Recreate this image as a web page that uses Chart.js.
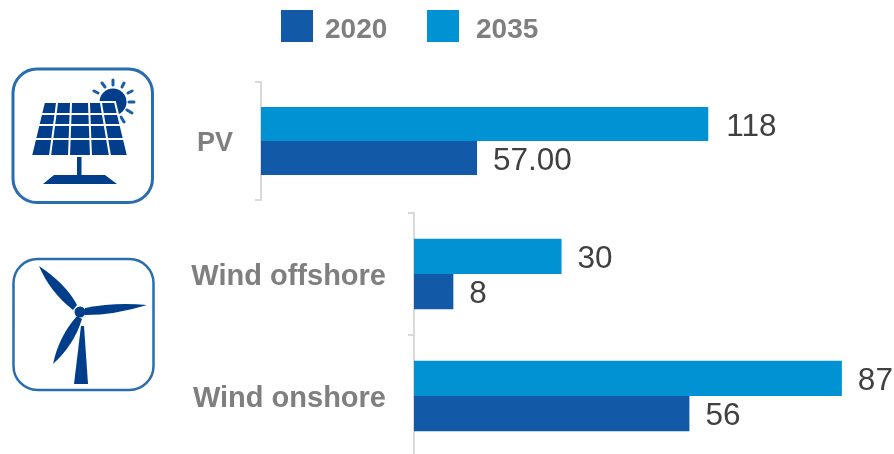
<!DOCTYPE html>
<html>
<head>
<meta charset="utf-8">
<title>PV and wind capacity, 2020 and 2035</title>
<script src="https://cdn.jsdelivr.net/npm/chart.js@4"></script>
<style>
    html, body { margin: 0; padding: 0; background: #fff; }
    body { position: relative; width: 894px; height: 454px; overflow: hidden; font-family: "Liberation Sans", Arial, sans-serif; }
    canvas { position: absolute; left: 0; }
    #pvChart { top: 0; }
    #windChart { top: 205px; }
    #icons { position: absolute; left: 0; top: 0; filter: blur(0.4px); }
    .legend-box { position: absolute; top: 10px; width: 32px; height: 32px; }
    .legend-text { position: absolute; top: 13px; font-size: 28px; line-height: 32px; font-weight: bold; color: #7f7f7f; }
</style>
</head>
<body>
<canvas id="pvChart" width="894" height="210"></canvas>
<canvas id="windChart" width="894" height="252"></canvas>

<!-- Icone a sinistra dei gruppi -->
<svg id="icons" width="894" height="454">
    <rect x="13" y="69" width="139.5" height="133.5" rx="24" fill="none" stroke="#2a6cb0" stroke-width="3"/>
    <circle cx="113" cy="102" r="13.5" fill="#003d8a"/>
    <g stroke="#1c5ea6" stroke-width="3" stroke-linecap="round">
        <line x1="113" y1="80" x2="113" y2="85"/>
        <line x1="102" y1="83" x2="105" y2="87"/>
        <line x1="94" y1="91" x2="98" y2="93"/>
        <line x1="124" y1="83" x2="122" y2="87"/>
        <line x1="132" y1="91" x2="128" y2="93"/>
        <line x1="134" y1="102" x2="129" y2="102"/>
        <line x1="132" y1="113" x2="127" y2="110"/>
        <line x1="124" y1="122" x2="121" y2="117"/>
    </g>
    <path d="M44,102 L115,102 L128,156 L31,156 Z" fill="#003d8a" stroke="#fff" stroke-width="2"/>
    <g stroke="#fff" stroke-width="2">
        <line x1="57" y1="103" x2="50" y2="156"/>
        <line x1="71" y1="103" x2="69" y2="156"/>
        <line x1="89" y1="103" x2="91" y2="156"/>
        <line x1="101" y1="103" x2="110" y2="156"/>
        <line x1="42" y1="114" x2="118" y2="114"/>
        <line x1="39" y1="125" x2="121" y2="125"/>
        <line x1="36" y1="139" x2="124" y2="139"/>
    </g>
    <rect x="77" y="157" width="4.5" height="18" fill="#003d8a"/>
    <path d="M54,175 L105,175 L117,184 L43,184 Z" fill="#003d8a"/>

    <rect x="13.5" y="259" width="140" height="131" rx="24" fill="none" stroke="#2a6cb0" stroke-width="2.5"/>
    <path d="M39,266 Q66,284 77,305 L73,310 Q50,292 39,266 Z" fill="#003d8a"/>
    <path d="M147,305 Q115,315 85,315 L85,308 Q115,302 147,305 Z" fill="#003d8a"/>
    <path d="M53,364 Q59,336 77,316 L82,319 Q74,345 53,364 Z" fill="#003d8a"/>
    <circle cx="80" cy="312" r="5.5" fill="#003d8a"/>
    <path d="M81,326 L84,326 L88,384 L74,384 Z" fill="#003d8a"/>
</svg>

<script>
// Dati
const legendYears = ['2020', '2035'];
const pvCategories = ['PV'];
const pv2020 = [57];
const pv2035 = [118];
const pv2020Labels = ['57.00'];
const pv2035Labels = ['118'];
const windCategories = ['Wind offshore', 'Wind onshore'];
const wind2020 = [8, 56];
const wind2035 = [30, 87];
const wind2020Labels = ['8', '56'];
const wind2035Labels = ['30', '87'];

const color2020 = '#1259a7';
const color2035 = '#0092d2';
const axisColor = '#d9d9d9';

// Scrive il valore a destra di ogni barra
const barValueLabels = {
    id: 'barValueLabels',
    afterDatasetsDraw(chart) {
        const ctx = chart.ctx;
        ctx.save();
        ctx.font = '31.5px "Liberation Sans", Arial, sans-serif';
        ctx.fillStyle = '#404040';
        ctx.textAlign = 'left';
        ctx.textBaseline = 'middle';
        chart.data.datasets.forEach((dataset, i) => {
            chart.getDatasetMeta(i).data.forEach((bar, j) => {
                ctx.fillText(dataset.valueLabels[j], bar.x + dataset.labelGap, bar.y + 3);
            });
        });
        ctx.restore();
    }
};

// Abbassa leggermente le etichette delle categorie
const shiftCategoryLabels = {
    id: 'shiftCategoryLabels',
    afterLayout(chart) {
        chart.scales.y.getLabelItems().forEach(item => {
            item.options.translation[1] += 3;
        });
    }
};

function createBarChart(canvasId, config) {
    const ctx = document.getElementById(canvasId).getContext('2d');
    return new Chart(ctx, {
        type: 'bar',
        data: {
            labels: config.categories,
            datasets: [
                { label: legendYears[1], data: config.values2035, valueLabels: config.labels2035, labelGap: config.gap2035, backgroundColor: color2035 },
                { label: legendYears[0], data: config.values2020, valueLabels: config.labels2020, labelGap: config.gap2020, backgroundColor: color2020 }
            ]
        },
        options: {
            indexAxis: 'y',
            responsive: false,
            animation: false,
            categoryPercentage: 0.578,
            barPercentage: 1,
            layout: { padding: { top: config.paddingTop, right: 0, bottom: config.paddingBottom, left: 0 } },
            plugins: { legend: { display: false }, tooltip: { enabled: false } },
            scales: {
                x: { display: false, min: 0, max: config.xMax },
                y: {
                    // larghezza fissa e nessun margine extra per le etichette
                    afterFit(scale) {
                        scale.width = config.axisLeft;
                        scale.paddingTop = 0;
                        scale.paddingBottom = 0;
                    },
                    border: { display: true, color: axisColor, width: 2 },
                    grid: { display: true, drawOnChartArea: false, color: axisColor, lineWidth: 2, tickLength: 6 },
                    ticks: {
                        autoSkip: false,
                        padding: 22,
                        color: '#7f7f7f',
                        font: { family: '"Liberation Sans", Arial, sans-serif', size: config.tickSize, weight: 'bold' }
                    }
                }
            }
        },
        plugins: [barValueLabels, shiftCategoryLabels]
    });
}

createBarChart('pvChart', {
    categories: pvCategories,
    values2020: pv2020, values2035: pv2035,
    labels2020: pv2020Labels, labels2035: pv2035Labels,
    gap2020: 16, gap2035: 18,
    axisLeft: 261, xMax: 167, paddingTop: 82, paddingBottom: 10, tickSize: 27
});
createBarChart('windChart', {
    categories: windCategories,
    values2020: wind2020, values2035: wind2035,
    labels2020: wind2020Labels, labels2035: wind2035Labels,
    gap2020: 16, gap2035: 16,
    axisLeft: 414, xMax: 97.6, paddingTop: 8, paddingBottom: 0, tickSize: 29
});

// Legenda in HTML sopra i grafici
[
    { year: legendYears[0], color: color2020, boxLeft: 281, textLeft: 325 },
    { year: legendYears[1], color: color2035, boxLeft: 427, textLeft: 476 }
].forEach(item => {
    const box = document.createElement('div');
    box.className = 'legend-box';
    box.style.left = item.boxLeft + 'px';
    box.style.background = item.color;
    document.body.appendChild(box);
    const text = document.createElement('div');
    text.className = 'legend-text';
    text.style.left = item.textLeft + 'px';
    text.textContent = item.year;
    document.body.appendChild(text);
});
</script>
</body>
</html>
